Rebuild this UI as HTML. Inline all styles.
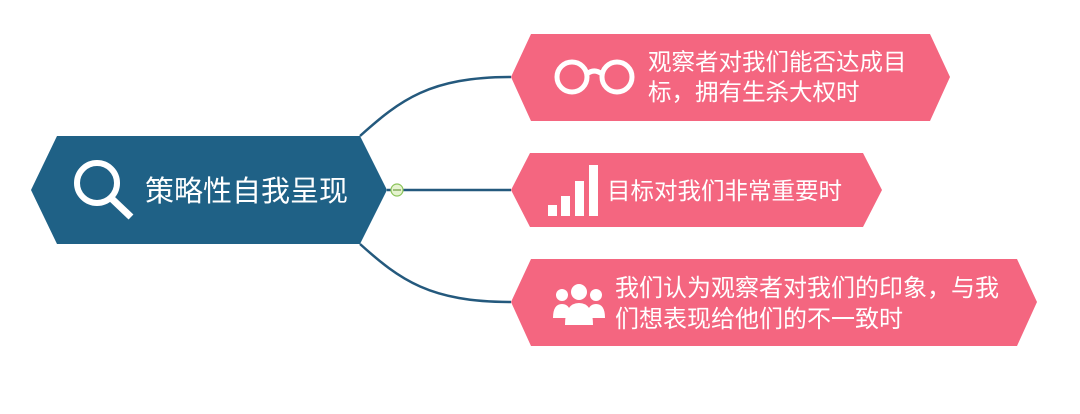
<!DOCTYPE html>
<html><head><meta charset="utf-8"><style>
body{margin:0;background:#fff;}
svg text{font-family:"Liberation Sans","Noto Sans CJK SC",sans-serif;fill:#fff;}
</style></head><body>
<svg width="1080" height="409" viewBox="0 0 1080 409" xmlns="http://www.w3.org/2000/svg">
<g fill="none" stroke="#24597d" stroke-width="2.5">
<path d="M360,136 C400,100 430,77 511,77"/>
<path d="M387,190 L511,190"/>
<path d="M360,244 C400,280 430,302 511,302"/>
</g>
<polygon points="31,190 57,136 360,136 387,190 360,244 57,244" fill="#1f6186"/>
<circle cx="397" cy="190" r="6" fill="#e6f3d0" stroke="#8bc45a" stroke-width="1.2"/>
<line x1="393" y1="190" x2="401" y2="190" stroke="#6a9a40" stroke-width="1.2"/>
<circle cx="97" cy="183" r="20" fill="none" stroke="#fff" stroke-width="6"/>
<line x1="111" y1="198" x2="131" y2="217" stroke="#fff" stroke-width="7"/>
<text x="145" y="201" font-size="29">策略性自我呈现</text>

<polygon points="511,77 531,34 930,34 950,77 930,121 531,121" fill="#f46680"/>
<polygon points="511,190 530,153 863,153 882,190 863,227 530,227" fill="#f46680"/>
<polygon points="511,302 531,259 1017,259 1037,302 1017,346 531,346" fill="#f46680"/>

<g fill="none" stroke="#fff" stroke-width="5">
<circle cx="572" cy="77" r="15"/><circle cx="617" cy="77" r="15"/>
<path d="M587,74 Q594,68 602,74"/>
</g>
<text x="648" y="70" font-size="23.5">观察者对我们能否达成目</text>
<text x="648" y="100" font-size="23.5">标，拥有生杀大权时</text>

<g fill="#fff">
<rect x="548" y="205" width="9" height="11"/>
<rect x="561" y="196" width="9" height="20"/>
<rect x="575" y="181" width="9" height="35"/>
<rect x="589" y="165" width="9" height="51"/>
</g>
<text x="607" y="199" font-size="23.5">目标对我们非常重要时</text>

<g fill="#fff">
<circle cx="562" cy="295" r="6"/><path d="M553,318 Q553,304 562,304 Q571,304 571,318Z"/>
<circle cx="596" cy="295" r="6"/><path d="M587,318 Q587,304 596,304 Q605,304 605,318Z"/>
<circle cx="579" cy="292" r="8"/><path d="M565,325 Q565,303 579,303 Q593,303 593,325Z"/>
</g>
<text x="615" y="296" font-size="24">我们认为观察者对我们的印象，与我</text>
<text x="615" y="327" font-size="24">们想表现给他们的不一致时</text>
</svg>
</body></html>
